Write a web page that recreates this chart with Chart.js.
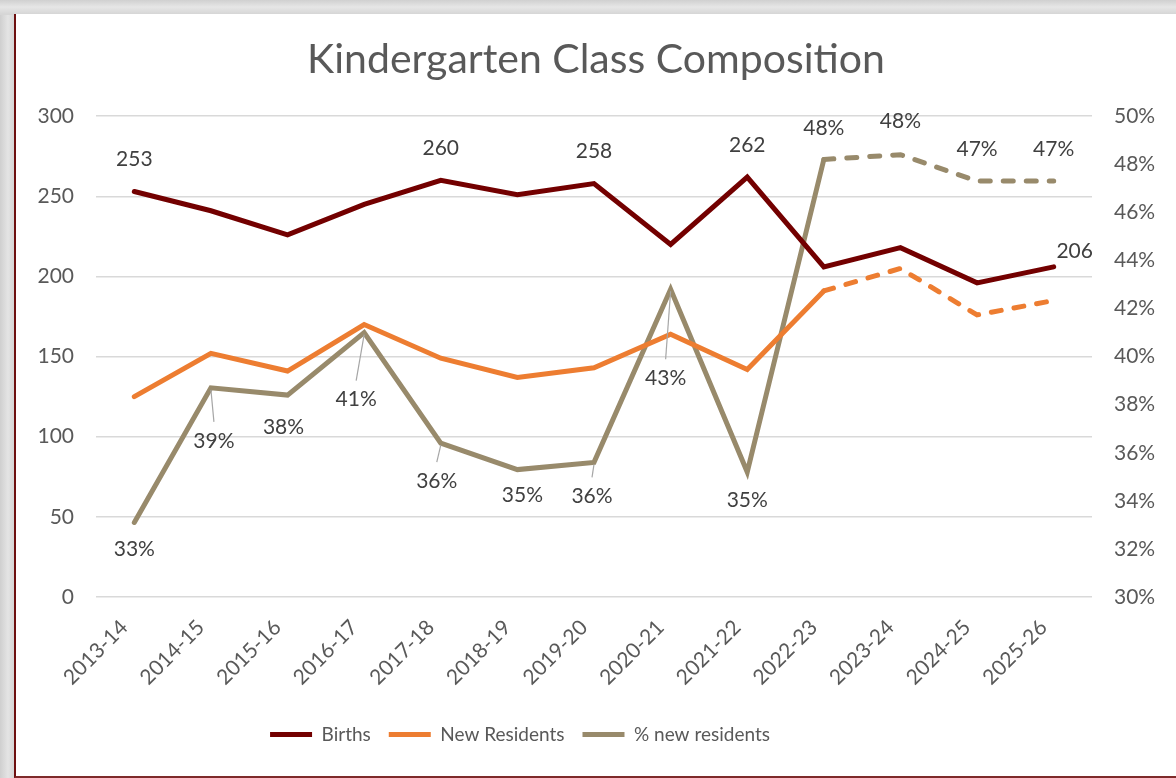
<!DOCTYPE html>
<html>
<head>
<meta charset="utf-8">
<script src="https://cdn.jsdelivr.net/npm/chart.js@4"></script>
<style>
  html, body { margin: 0; padding: 0; }
  body {
    width: 1176px; height: 778px; overflow: hidden;
    background: linear-gradient(to right, #cfcfcf 0px, #e4e4e4 8px, #d4d4d4 15px, #d4d4d4 100%);
    position: relative;
  }
  #topband {
    position: absolute; left: 0; top: 0; width: 1176px; height: 15px;
    background: linear-gradient(to bottom, #d0d0d0 0px, #e6e6e6 7px, #d6d6d6 14px);
  }
  #frame {
    position: absolute; left: 14px; top: 14px; width: 1162px; height: 762px;
    background: #fff;
    border-left: 2px solid #6e1010;
    border-bottom: 2px solid #7e2a2a;
  }
  #chart { position: absolute; left: 0; top: 0; }
</style>
</head>
<body>
<div id="topband"></div>
<div id="frame"><canvas id="chart" width="1160" height="762"></canvas></div>
<script>
const FONT = "Lato, 'Noto Sans', sans-serif";

const schoolYears = ["2013-14", "2014-15", "2015-16", "2016-17", "2017-18", "2018-19", "2019-20",
  "2020-21", "2021-22", "2022-23", "2023-24", "2024-25", "2025-26"];
const births = [253, 241, 226, 245, 260, 251, 258, 220, 262, 206, 218, 196, 206];
const newResidents = [125, 152, 141, 170, 149, 137, 143, 164, 142, 191, 205, 176, 185];
const pctNewResidents = [33.1, 38.7, 38.4, 41.0, 36.4, 35.3, 35.6, 42.8, 35.2, 48.2, 48.4, 47.3, 47.3];
const firstProjected = 9; // lines go dashed from 2022-23 on

// which points get a value label, and where it sits relative to the point
const birthsLabels = [
  { i: 0, dx: 0, dy: -32 },
  { i: 4, dx: 0, dy: -32 },
  { i: 6, dx: 0, dy: -32 },
  { i: 8, dx: 0, dy: -32 },
  { i: 12, dx: 21, dy: -16 },
];
const pctLabels = [
  { i: 0, dx: 0, dy: 27 },
  { i: 1, dx: 3, dy: 53, leader: true },
  { i: 2, dx: -4, dy: 32 },
  { i: 3, dx: -8, dy: 67, leader: true },
  { i: 4, dx: -4, dy: 38, leader: true },
  { i: 5, dx: 5, dy: 26 },
  { i: 6, dx: -2, dy: 34, leader: true },
  { i: 7, dx: -5, dy: 89, leader: true },
  { i: 8, dx: 0, dy: 28 },
  { i: 9, dx: 0, dy: -31 },
  { i: 10, dx: 0, dy: -33 },
  { i: 11, dx: 0, dy: -32 },
  { i: 12, dx: 0, dy: -32 },
];

const dashAfter = (ctx) => (ctx.p0DataIndex >= firstProjected ? [10, 13] : undefined);

const valueLabels = {
  id: "valueLabels",
  afterDatasetsDraw(chart) {
    const ctx = chart.ctx;
    ctx.save();
    ctx.font = "21px " + FONT;
    ctx.fillStyle = "#404040";
    ctx.textAlign = "center";
    ctx.textBaseline = "middle";

    const bMeta = chart.getDatasetMeta(0);
    birthsLabels.forEach((l) => {
      const p = bMeta.data[l.i];
      ctx.fillText(String(births[l.i]), p.x + l.dx, p.y + l.dy);
    });

    const pMeta = chart.getDatasetMeta(2);
    pctLabels.forEach((l) => {
      const p = pMeta.data[l.i];
      const lx = p.x + l.dx, ly = p.y + l.dy;
      if (l.leader) {
        ctx.strokeStyle = "#a6a6a6";
        ctx.lineWidth = 1.2;
        ctx.beginPath();
        ctx.moveTo(p.x, p.y + 2);
        ctx.lineTo(lx, ly - 19);
        ctx.stroke();
      }
      ctx.fillText(Math.round(pctNewResidents[l.i]) + "%", lx, ly);
    });
    ctx.restore();
  },
};

// move the legend a bit left, as in the original
const legendShift = {
  id: "legendShift",
  afterLayout(chart) {
    chart.legend.left -= 76;
    chart.legend.right -= 76;
  },
};

new Chart(document.getElementById("chart"), {
  type: "line",
  data: {
    labels: schoolYears,
    datasets: [
      {
        label: "Births",
        data: births,
        yAxisID: "y",
        borderColor: "#730000",
        backgroundColor: "#730000",
        borderWidth: 5,
        borderCapStyle: "round",
        pointRadius: 0,
        tension: 0,
      },
      {
        label: "New Residents",
        data: newResidents,
        yAxisID: "y",
        borderColor: "#ed7d31",
        backgroundColor: "#ed7d31",
        borderWidth: 5,
        borderCapStyle: "round",
        pointRadius: 0,
        segment: { borderDash: dashAfter },
      },
      {
        label: "% new residents",
        data: pctNewResidents,
        yAxisID: "y1",
        borderColor: "#988a6b",
        backgroundColor: "#988a6b",
        borderWidth: 5,
        borderCapStyle: "round",
        pointRadius: 0,
        segment: { borderDash: dashAfter },
      },
    ],
  },
  options: {
    responsive: false,
    animation: false,
    layout: { padding: { left: 0, right: 0, top: 0, bottom: 22 } },
    plugins: {
      title: {
        display: true,
        text: "Kindergarten Class Composition",
        color: "#595959",
        font: { family: FONT, size: 41, weight: "normal" },
        padding: { top: 21, bottom: 32 },
      },
      legend: {
        position: "bottom",
        labels: {
          color: "#595959",
          font: { family: FONT, size: 19 },
          usePointStyle: true,
          pointStyle: "line",
          pointStyleWidth: 42,
          boxHeight: 6,
          padding: 18,
        },
      },
      tooltip: { enabled: false },
    },
    scales: {
      x: {
        offset: true,
        grid: { display: false, drawTicks: false },
        border: { display: false },
        ticks: {
          color: "#595959",
          font: { family: FONT, size: 21 },
          maxRotation: 45,
          minRotation: 45,
          padding: 18,
          labelOffset: -10,
          autoSkip: false,
        },
        afterFit(scale) { scale.height = 110; },
      },
      y: {
        position: "left",
        min: 0,
        max: 300,
        ticks: {
          stepSize: 50,
          color: "#595959",
          font: { family: FONT, size: 21 },
          padding: 22,
        },
        grid: { color: "#d9d9d9", lineWidth: 1.5, drawTicks: false },
        border: { display: false },
        afterFit(scale) { scale.width = 80; },
      },
      y1: {
        position: "right",
        min: 30,
        max: 50,
        ticks: {
          stepSize: 2,
          color: "#595959",
          font: { family: FONT, size: 21 },
          padding: 22,
          callback: (v) => v + "%",
        },
        grid: { display: false, drawTicks: false },
        border: { display: false },
        afterFit(scale) { scale.width = 84; },
      },
    },
  },
  plugins: [valueLabels, legendShift],
});
</script>
</body>
</html>
